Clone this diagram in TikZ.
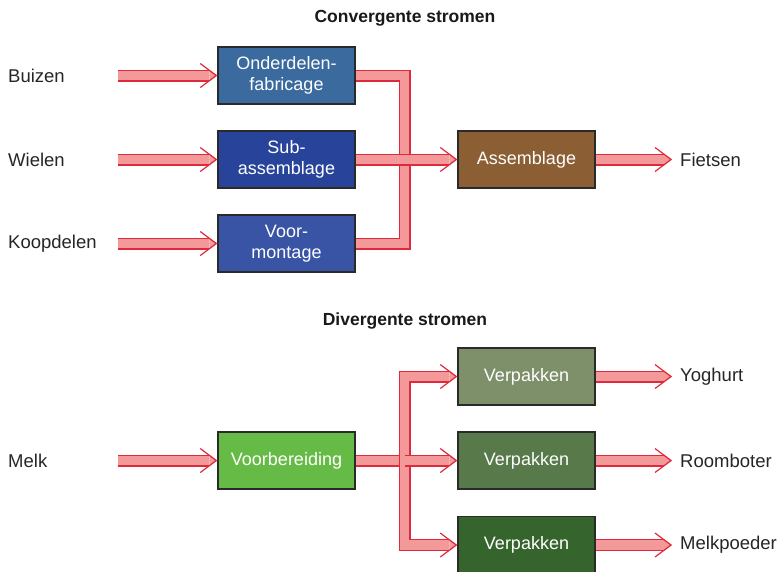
\documentclass[tikz,border=0pt]{standalone}
\usepackage{fontspec}
\setmainfont{Liberation Sans}
\usepackage{tikz}
\usetikzlibrary{arrows.meta}

\definecolor{flowpink}{HTML}{F4999A}
\definecolor{flowred}{HTML}{DE2A3C}
\definecolor{boxedge}{HTML}{2A2A2A}
\definecolor{onderdelenblue}{HTML}{3A6A9E}
\definecolor{subblue}{HTML}{28449A}
\definecolor{voorblue}{HTML}{3954A4}
\definecolor{assemblagebrown}{HTML}{8B5E34}
\definecolor{voorbergreen}{HTML}{66BB47}
\definecolor{verpgreenA}{HTML}{7D9069}
\definecolor{verpgreenB}{HTML}{587A4B}
\definecolor{verpgreenC}{HTML}{36642D}

\begin{document}
\begin{tikzpicture}[x=1pt, y=-1pt,
  stage/.style={rectangle, draw=boxedge, line width=1.5pt, minimum width=137pt, minimum height=57pt, inner sep=0pt, align=center, text=white, font=\fontsize{18}{21.5}\selectfont},
  lbl/.style={anchor=west, inner sep=0pt, text=black!85, font=\fontsize{18.5}{22}\selectfont},
  heading/.style={inner sep=0pt, text=black!90, font=\fontsize{17.5}{20}\selectfont\bfseries},
  flowline/.style={draw=flowred, line width=12pt, postaction={draw=flowpink, line width=9.6pt}},
  flow/.style={flowpink, line width=0.4pt, -{Straight Barb[color=flowred, length=16pt, width=24pt, line width=1.2pt]},
    preaction={draw=flowred, line width=12pt, arrows=-, shorten >=8pt},
    preaction={draw=flowpink, line width=9.6pt, -{Triangle[length=8pt, width=12pt, line width=0pt]}}}]
\useasboundingbox[fill=white] (0,0) rectangle (778,571);

\node (convtitle) [heading] at (405,18) {Convergente stromen};

\node (buizen) [lbl] at (8,75.5) {Buizen};
\node (wielen) [lbl] at (8,159.5) {Wielen};
\node (koopdelen) [lbl] at (8,243.5) {Koopdelen};
\coordinate (buizenIn) at (118,75.5);
\coordinate (wielenIn) at (118,159.5);
\coordinate (koopdelenIn) at (118,243.5);

\node (onderdelen) [stage, fill=onderdelenblue] at (286.5,75.5) {Onderdelen-\\fabricage};
\node (sub) [stage, fill=subblue] at (286.5,159.5) {Sub-\\assemblage};
\node (voor) [stage, fill=voorblue] at (286.5,243.5) {Voor-\\montage};
\node (assemblage) [stage, fill=assemblagebrown] at (526.5,159.5) {Assemblage};
\node (fietsen) [lbl] at (680,159.5) {Fietsen};
\coordinate (fietsenOut) at (672,159.5);
\coordinate (jconv) at (404.5,159.5);

\draw[flow] (buizenIn) -- (onderdelen.west);
\draw[flow] (wielenIn) -- (sub.west);
\draw[flow] (koopdelenIn) -- (voor.west);
\draw[flowline] (onderdelen.east) -| (jconv);
\draw[flowline] (voor.east) -| (jconv);
\draw[flowline] (sub.east) -- (jconv);
\draw[flow] (jconv) -- (assemblage.west);
\draw[flow] (assemblage.east) -- (fietsenOut);

\node (divtitle) [heading] at (405,321) {Divergente stromen};

\node (melk) [lbl] at (8,460.5) {Melk};
\coordinate (melkIn) at (118,460.5);
\node (voorber) [stage, fill=voorbergreen] at (286.5,460.5) {Voorbereiding};
\node (verpA) [stage, fill=verpgreenA] at (526.5,376.5) {Verpakken};
\node (verpB) [stage, fill=verpgreenB] at (526.5,460.5) {Verpakken};
\node (verpC) [stage, fill=verpgreenC] at (526.5,545) {Verpakken};
\node (yoghurt) [lbl] at (680,376.5) {Yoghurt};
\node (roomboter) [lbl] at (680,460.5) {Roomboter};
\node (melkpoeder) [lbl] at (680,545) {Melkpoeder};
\coordinate (yoghurtOut) at (672,376.5);
\coordinate (roomboterOut) at (672,460.5);
\coordinate (melkpoederOut) at (672,545);
\coordinate (jdiv) at (404.5,460.5);

\draw[flow] (melkIn) -- (voorber.west);
\draw[flowline] (voorber.east) -- (jdiv);
\draw[flow] (jdiv) |- (verpA.west);
\draw[flow] (jdiv) |- (verpC.west);
\draw[flow] (jdiv) -- (verpB.west);
\draw[flow] (verpA.east) -- (yoghurtOut);
\draw[flow] (verpB.east) -- (roomboterOut);
\draw[flow] (verpC.east) -- (melkpoederOut);
\end{tikzpicture}
\end{document}
